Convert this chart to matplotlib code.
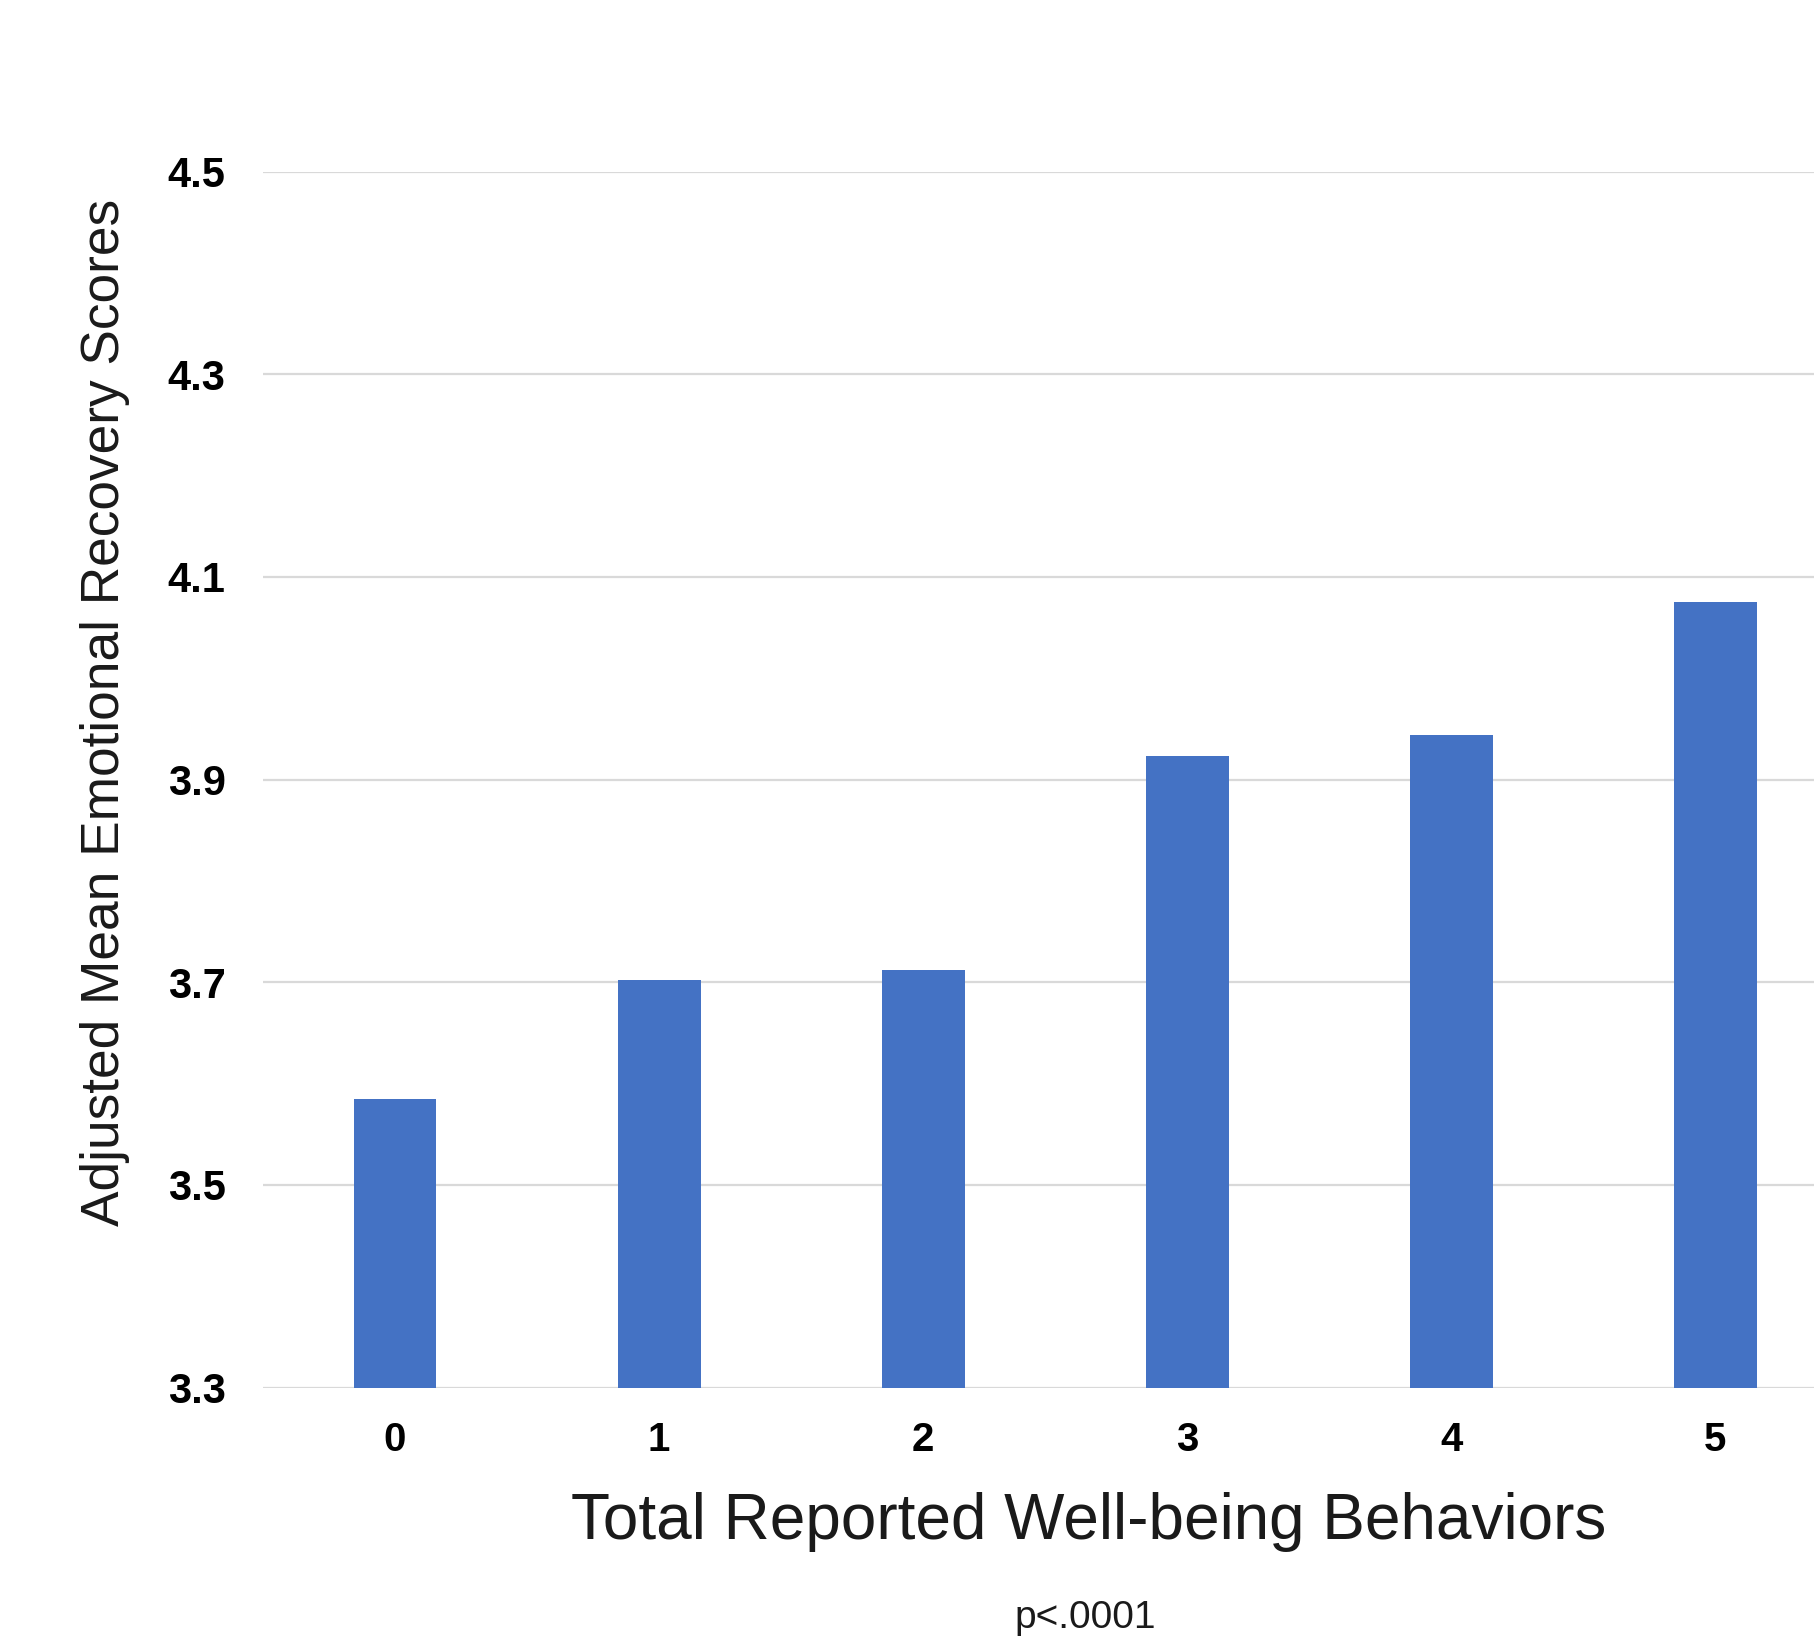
import matplotlib
matplotlib.use("Agg")
import matplotlib.pyplot as plt

# Adjusted mean emotional recovery by number of well-being behaviors
categories = ["0", "1", "2", "3", "4", "5"]
scores = [3.585, 3.702, 3.712, 3.923, 3.944, 4.075]
y_ticks = [3.3, 3.5, 3.7, 3.9, 4.1, 4.3, 4.5]
y_tick_labels = ["3.3", "3.5", "3.7", "3.9", "4.1", "4.3", "4.5"]

plt.rcParams["font.family"] = ["Liberation Sans", "DejaVu Sans"]

fig = plt.figure(figsize=(18.15, 16.41), dpi=100)
ax = fig.add_axes([0.1449, 0.1544, 0.8551, 0.7410])

x = list(range(len(categories)))
ax.bar(x, [s - y_ticks[0] for s in scores], bottom=y_ticks[0], width=0.314,
       color="#4472C4", zorder=3)

ax.set_ylim(y_ticks[0], y_ticks[-1])
ax.set_xlim(-0.5, 5.377)
ax.set_yticks(y_ticks)
ax.set_yticklabels(y_tick_labels, fontsize=30, fontweight="bold")
ax.set_xticks(x)
ax.set_xticklabels(categories, fontsize=29, fontweight="bold")
ax.tick_params(axis="y", length=0, pad=27)
ax.tick_params(axis="x", length=0, pad=24)

ax.grid(axis="y", color="#d9d9d9", linewidth=1.6, zorder=0)
for side in ["top", "right", "left", "bottom"]:
    ax.spines[side].set_visible(False)

fig.text(105 / 1815, 1 - 712 / 1641, "Adjusted Mean Emotional Recovery Scores",
         fontsize=38.3, color="#1a1a1a", rotation=90, ha="center", va="center")
fig.text(1089 / 1815, 1 - 1522 / 1641, "Total Reported Well-being Behaviors",
         fontsize=46, color="#1a1a1a", ha="center", va="center")
fig.text(1085 / 1815, 1 - 1618 / 1641, "p<.0001",
         fontsize=28, color="#1a1a1a", ha="center", va="center")

fig.savefig("out.png", dpi=100, facecolor="white")
